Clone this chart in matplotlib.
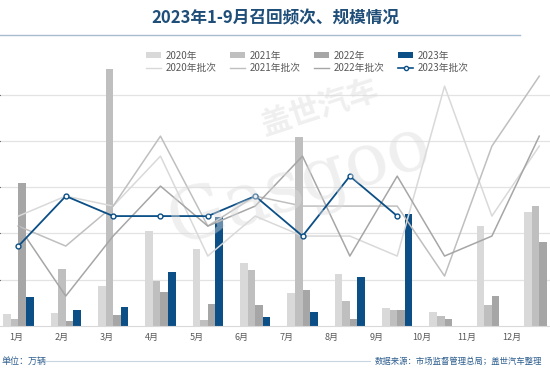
import matplotlib
matplotlib.use('Agg')
import matplotlib.pyplot as plt
from matplotlib.lines import Line2D
from matplotlib.patches import Patch
import numpy as np

plt.rcParams['font.family'] = ['Noto Sans CJK SC', 'DejaVu Sans']

# 数据（单位：万辆 / 批次）
months = ['1月', '2月', '3月', '4月', '5月', '6月', '7月', '8月', '9月', '10月', '11月', '12月']
vol_2020 = [13, 14, 43, 103, 83, 68, 36, 56, 19, 15, 108, 123]
vol_2021 = [8, 62, 277, 49, 6, 61, 204, 27, 17, 11, 23, 130]
vol_2022 = [154, 5, 12, 37, 24, 23, 39, 8, 17, 8, 32, 91]
vol_2023 = [31, 17, 20, 58, 118, 10, 15, 53, 121]

batch_2020 = [11, 13, 12, 17, 7, 11, 9, 9, 7, 24, 11, 18]
batch_2021 = [10, 8, 12, 19, 10, 13, 12, 12, 12, 5, 18, 25]
batch_2022 = [10, 3, 9, 14, 10, 12, 17, 7, 15, 7, 9, 19]
batch_2023 = [8, 13, 11, 11, 11, 13, 9, 15, 11]

c20, c21, c22, c23 = '#d9d9d9', '#bfbfbf', '#a6a6a6', '#0b4f86'
txt_grey = '#595959'
blue_txt = '#2f5f8f'

W, H = 550, 378
fig = plt.figure(figsize=(5.5, 3.78), dpi=100)

def fx(px):
    return px / W

def fy(py):
    return 1 - py / H

# 主坐标轴：柱状图
ax = fig.add_axes([0, fy(326), 1, fy(48.2) - fy(326)])
x = np.arange(len(months))
bw = 0.16
ax.bar(x - 1.5 * bw, vol_2020, bw, color=c20, zorder=2)
ax.bar(x - 0.5 * bw, vol_2021, bw, color=c21, zorder=2)
ax.bar(x + 0.5 * bw, vol_2022, bw, color=c22, zorder=2)
ax.bar(x[:len(vol_2023)] + 1.5 * bw, vol_2023, bw, color=c23, zorder=2)

ax.set_xlim(-0.389, 11.227)
ax.set_ylim(0, 300)
ax.set_yticks([50, 100, 150, 200, 250])
ax.yaxis.grid(True, color='#e3e3e3', lw=0.9, zorder=0)
ax.set_axisbelow(True)
for s in ['left', 'right', 'top']:
    ax.spines[s].set_visible(False)
ax.spines['bottom'].set_color('#d9d9d9')
ax.tick_params(axis='y', left=False, labelleft=False)
# 月份标签（原图标签间距略小于柱组间距）
tick_pos = x * 0.9504 - 0.036
ax.set_xticks(tick_pos, months)
ax.tick_params(axis='x', length=0, pad=5, labelsize=6.5, colors=txt_grey)

# 次坐标轴：批次折线
ax2 = ax.twinx()
ax2.set_ylim(0, 27.8)
ax2.plot(x, batch_2020, color=c20, lw=1.1)
ax2.plot(x, batch_2021, color=c21, lw=1.1)
ax2.plot(x, batch_2022, color=c22, lw=1.1)
ax2.plot(x[:len(batch_2023)], batch_2023, color=c23, lw=1.3,
         marker='o', ms=3.5, mfc='white', mec=c23, mew=1)
ax2.axis('off')

# 水印
fig.text(fx(300), fy(185), 'Gasgoo', fontsize=52, color='#dcdcdc', alpha=0.45,
         rotation=18, ha='center', va='center', family='DejaVu Serif')
fig.text(fx(320), fy(108), '盖世汽车', fontsize=22, color='#dcdcdc', alpha=0.45,
         rotation=18, ha='center', va='center', fontweight='bold')

# 标题
fig.text(0.5, fy(18), '2023年1-9月召回频次、规模情况', ha='center', va='center',
         fontsize=12, fontweight='bold', color='#1f4e79')
fig.add_artist(Line2D([0, fx(520)], [fy(35), fy(35)], color='#a8bccf', lw=1))

# 图例
handles = [
    Patch(facecolor=c20), Line2D([], [], color=c20, lw=1),
    Patch(facecolor=c21), Line2D([], [], color=c21, lw=1),
    Patch(facecolor=c22), Line2D([], [], color=c22, lw=1),
    Patch(facecolor=c23), Line2D([], [], color=c23, lw=1.2, marker='o', ms=3,
                                 mfc='white', mec=c23),
]
labels = ['2020年', '2020年批次', '2021年', '2021年批次',
          '2022年', '2022年批次', '2023年', '2023年批次']
fig.legend(handles, labels, ncol=4, loc='center', bbox_to_anchor=(fx(307), fy(62)),
           frameon=False, fontsize=7, handlelength=1.6, handleheight=0.6,
           handletextpad=0.4, columnspacing=1.4, labelspacing=0.3,
           labelcolor=txt_grey)

# 底部说明
fig.text(fx(2), fy(361), '单位：万辆', ha='left', va='center', fontsize=6.5,
         style='italic', color=blue_txt)
fig.add_artist(Line2D([fx(46), fx(370)], [fy(361), fy(361)], color='#c8d5e0', lw=0.8))
fig.text(fx(375), fy(361), '数据来源：市场监督管理总局；盖世汽车整理', ha='left',
         va='center', fontsize=6, style='italic', color=blue_txt)

fig.savefig('out.png', dpi=100)
plt.close(fig)
